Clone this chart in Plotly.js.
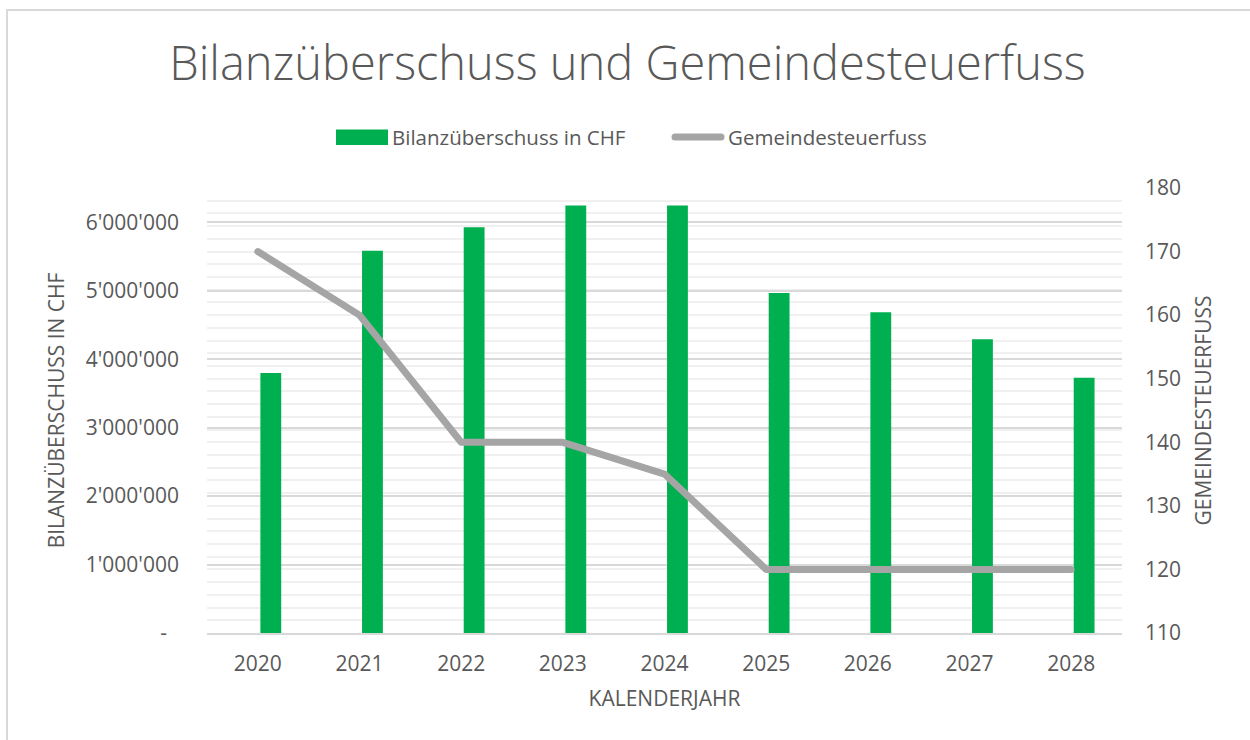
<!DOCTYPE html>
<html>
<head>
<meta charset="utf-8">
<script src="https://cdn.plot.ly/plotly-3.0.1.min.js"></script>
<style>
  html, body { margin: 0; padding: 0; background: #ffffff; }
  #frame { position: absolute; left: 6px; top: 9px; width: 1300px; height: 800px; border: 2px solid #d9d9d9; box-sizing: border-box; }
  #chart { position: absolute; left: 0; top: 0; width: 1250px; height: 740px; }
  .scatterlayer .js-line { stroke-linecap: round; stroke-linejoin: round; }
</style>
</head>
<body>
<div id="frame"></div>
<div id="chart"></div>
<script>
const years = ["2020", "2021", "2022", "2023", "2024", "2025", "2026", "2027", "2028"];
const surplusCHF = [3796000, 5584000, 5927000, 6244000, 6244000, 4965000, 4686000, 4289000, 3727000];
const taxRate = [170, 160, 140, 140, 135, 120, 120, 120, 120];
const leftTickVals = [0, 1000000, 2000000, 3000000, 4000000, 5000000, 6000000];
const leftTickText = ["-\u2007", "1'000'000", "2'000'000", "3'000'000", "4'000'000", "5'000'000", "6'000'000"];
const rightTickVals = [110, 120, 130, 140, 150, 160, 170, 180];
const legendNames = ["Bilanzüberschuss in CHF", "Gemeindesteuerfuss"];

const FONT = "Open Sans, Segoe UI, sans-serif";
const TXT = "#595959";
const GREEN = "#00b050";
const GREY = "#a5a5a5";

// plot-area pixel geometry helpers for legend placement
const W = 1250, H = 740, L = 207, R = 128, T = 188, B = 107;
const pw = W - L - R, ph = H - T - B;
const px = x => (x - L) / pw;
const py = y => (H - B - y) / ph;

const traces = [
  {
    type: "bar",
    name: legendNames[0],
    x: years,
    y: surplusCHF,
    marker: { color: GREEN },
    width: 0.205,
    offset: 0.025,
    yaxis: "y",
    showlegend: false,
    hovertemplate: "%{x}: %{y}<extra></extra>"
  },
  {
    type: "scatter",
    mode: "lines",
    name: legendNames[1],
    x: years,
    y: taxRate,
    line: { color: GREY, width: 7 },
    yaxis: "y2",
    showlegend: false,
    hovertemplate: "%{x}: %{y}<extra></extra>"
  }
];

const layout = {
  width: W,
  height: H,
  margin: { l: L, r: R, t: T, b: B },
  paper_bgcolor: "rgba(0,0,0,0)",
  plot_bgcolor: "rgba(0,0,0,0)",
  font: { family: FONT, color: TXT },
  showlegend: false,
  title: {
    text: "Bilanzüberschuss und Gemeindesteuerfuss",
    font: { family: FONT, size: 47, weight: 300, color: TXT },
    x: 0.502,
    xanchor: "center",
    y: 1 - 64 / H,
    yanchor: "middle"
  },
  xaxis: {
    type: "category",
    range: [-0.5, 8.5],
    showgrid: false,
    showline: true,
    linecolor: "#d9d9d9",
    linewidth: 1.5,
    ticks: "",
    tickfont: { size: 21, color: TXT },
    ticklabelstandoff: 11,
    title: { text: "KALENDERJAHR", font: { size: 21, color: TXT }, standoff: 15 },
    fixedrange: true
  },
  yaxis: {
    range: [0, 6500000],
    tickvals: leftTickVals,
    ticktext: leftTickText,
    showgrid: true,
    gridcolor: "#d9d9d9",
    gridwidth: 1.5,
    zeroline: false,
    showline: false,
    ticks: "",
    tickfont: { size: 21, color: TXT },
    ticklabelstandoff: 27,
    title: { text: "BILANZÜBERSCHUSS IN CHF", font: { size: 21, color: TXT }, standoff: 15 },
    fixedrange: true
  },
  yaxis2: {
    overlaying: "y",
    side: "right",
    range: [110, 180],
    tickvals: rightTickVals,
    showgrid: true,
    gridcolor: "#f0f0f0",
    gridwidth: 1.5,
    minor: { dtick: 2, showgrid: true, gridcolor: "#f0f0f0", gridwidth: 1.5, ticks: "" },
    zeroline: false,
    showline: false,
    ticks: "",
    tickfont: { size: 21, color: TXT },
    ticklabelstandoff: 22,
    title: { text: "GEMEINDESTEUERFUSS", font: { size: 21, color: TXT }, standoff: 16 },
    fixedrange: true
  },
  shapes: [
    { type: "rect", xref: "paper", yref: "paper", x0: px(336), x1: px(388), y0: py(145), y1: py(129.5),
      fillcolor: GREEN, line: { width: 0 } },
    { type: "line", xref: "paper", yref: "paper", x0: px(675), x1: px(721), y0: py(137), y1: py(137),
      line: { color: GREY, width: 7 } }
  ],
  annotations: [
    { xref: "paper", yref: "paper", x: px(390), y: py(137), xanchor: "left", yanchor: "middle",
      text: legendNames[0], showarrow: false, font: { size: 20.5, color: TXT } },
    { xref: "paper", yref: "paper", x: px(726), y: py(137), xanchor: "left", yanchor: "middle",
      text: legendNames[1], showarrow: false, font: { size: 20.5, color: TXT } }
  ]
};

Plotly.newPlot("chart", traces, layout, { displayModeBar: false, responsive: false }).then(() => {
  document.querySelectorAll(".shapelayer path").forEach(p => {
    p.style.strokeLinecap = "round";
  });
});
</script>
</body>
</html>
